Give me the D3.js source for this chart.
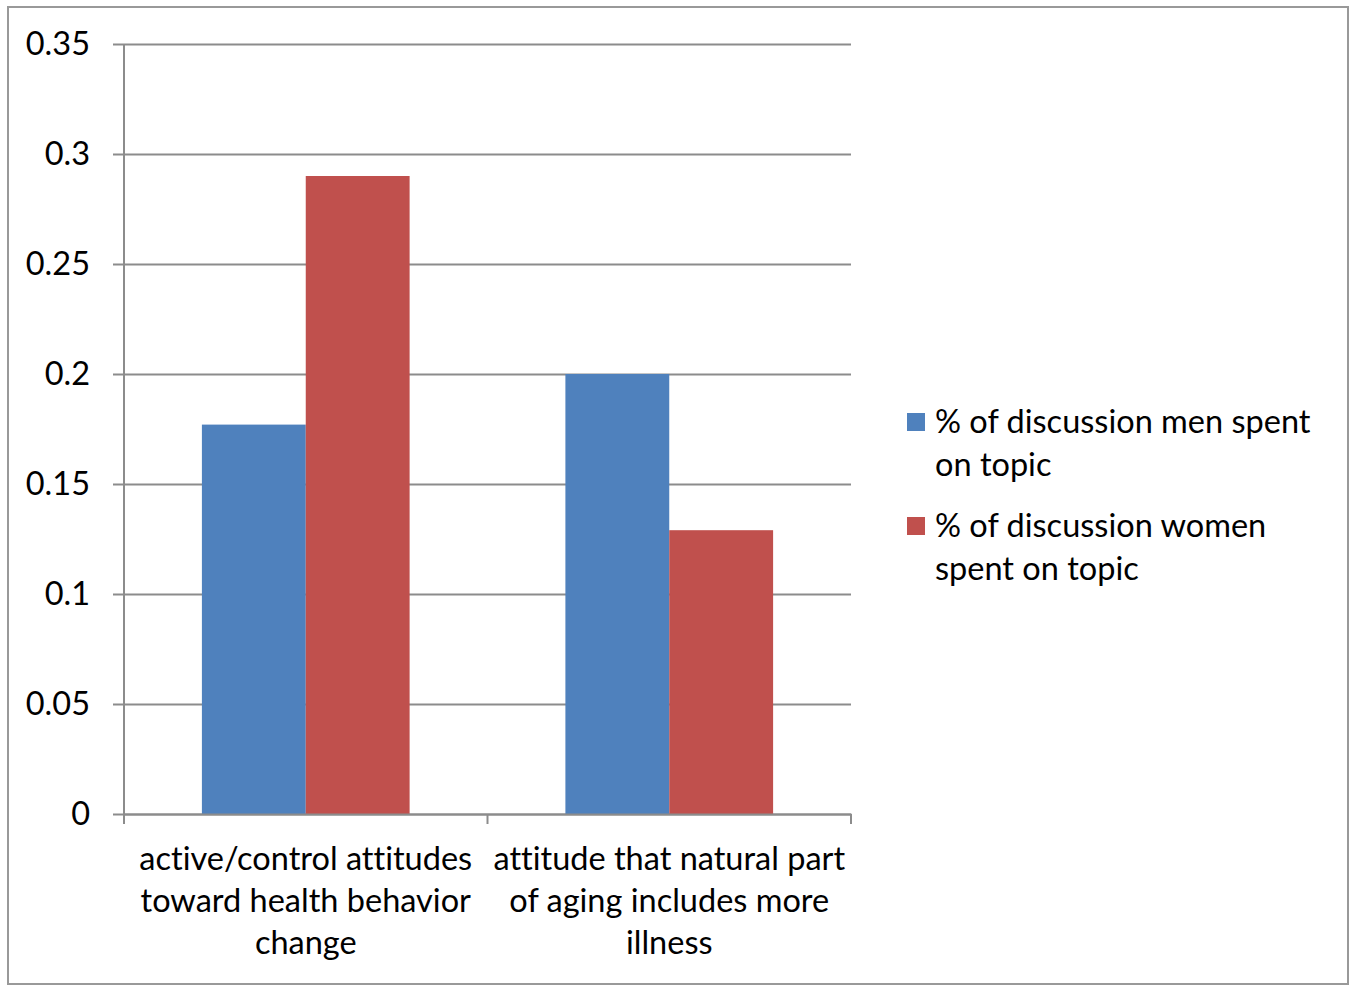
<!DOCTYPE html>
<html>
<head>
<meta charset="utf-8">
<script src="https://cdn.jsdelivr.net/npm/d3@7"></script>
<style>
  html, body { margin: 0; padding: 0; background: #fff; }
  svg { display: block; }
  text { font-family: Lato, "Open Sans", sans-serif; fill: #000; font-variant-ligatures: none; }
</style>
</head>
<body>
<svg id="chart" width="1357" height="986"></svg>
<script>
// Topics discussed and the share of discussion time each group spent on them
const categories = [
  ["active/control attitudes", "toward health behavior", "change"],
  ["attitude that natural part", "of aging includes more", "illness"]
];
const seriesNames = [
  ["% of discussion men spent", "on topic"],
  ["% of discussion women", "spent on topic"]
];
const menValues = [0.177, 0.2];
const womenValues = [0.29, 0.129];
const yTicks = [0, 0.05, 0.1, 0.15, 0.2, 0.25, 0.3, 0.35];
const yTickLabels = ["0", "0.05", "0.1", "0.15", "0.2", "0.25", "0.3", "0.35"];
const colors = ["#4f81bd", "#c0504d"];

const FS = 32.5;
const svg = d3.select("#chart");

// outer chart frame
svg.append("rect")
  .attr("x", 8).attr("y", 7).attr("width", 1340).attr("height", 977)
  .attr("fill", "#fff").attr("stroke", "#999").attr("stroke-width", 2);

const plot = { left: 124, right: 851, top: 44, bottom: 814 };

const y = d3.scaleLinear().domain([0, 0.35]).range([plot.bottom, plot.top]);
const x0 = d3.scaleBand().domain(d3.range(categories.length))
  .range([plot.left, plot.right]).padding(0);
// gap width of 150% between groups
const barW = x0.bandwidth() / 3.5;
const x1 = d3.scaleBand().domain([0, 1])
  .range([barW * 0.75, barW * 2.75]).padding(0);

// horizontal gridlines
const yAxis = d3.axisLeft(y).tickValues(yTicks)
  .tickSize(-(plot.right - plot.left)).tickFormat("");
const gGrid = svg.append("g").attr("transform", `translate(${plot.left},0)`).call(yAxis);
gGrid.select(".domain").remove();
gGrid.selectAll(".tick line").attr("stroke", "#8c8c8c").attr("stroke-width", 2)
  .attr("x1", -11);

// bars
const seriesValues = [menValues, womenValues];
const groups = svg.append("g").selectAll("g")
  .data(categories.map((c, i) => i))
  .join("g")
  .attr("transform", i => `translate(${x0(i)},0)`);
groups.selectAll("rect")
  .data(i => seriesValues.map((vals, s) => ({ s, v: vals[i] })))
  .join("rect")
  .attr("x", d => x1(d.s))
  .attr("width", x1.bandwidth())
  .attr("y", d => y(d.v))
  .attr("height", d => y(0) - y(d.v))
  .attr("fill", d => colors[d.s]);

// y axis line and tick labels
svg.append("line")
  .attr("x1", plot.left).attr("x2", plot.left)
  .attr("y1", plot.top).attr("y2", plot.bottom)
  .attr("stroke", "#8c8c8c").attr("stroke-width", 2);
svg.append("g").selectAll("text")
  .data(yTicks)
  .join("text")
  .attr("x", 90)
  .attr("y", d => y(d))
  .attr("dy", "0.35em")
  .attr("text-anchor", "end")
  .attr("font-size", FS)
  .text((d, i) => yTickLabels[i]);

// x axis line with category boundary ticks
const xAxis = d3.axisBottom(x0).tickSize(0).tickFormat("");
const gx = svg.append("g").attr("transform", `translate(0,${plot.bottom})`).call(xAxis);
gx.select(".domain").attr("stroke", "#8c8c8c").attr("stroke-width", 2);
gx.selectAll(".tick").remove();
const boundaries = [plot.left].concat(d3.range(categories.length).map(i => x0(i) + x0.bandwidth()));
gx.selectAll("line.bound")
  .data(boundaries)
  .join("line")
  .attr("class", "bound")
  .attr("x1", d => d).attr("x2", d => d)
  .attr("y1", 0).attr("y2", 10)
  .attr("stroke", "#8c8c8c").attr("stroke-width", 2);

// category labels
svg.append("g").selectAll("text")
  .data(categories)
  .join("text")
  .attr("text-anchor", "middle")
  .attr("font-size", FS)
  .each(function (lines, i) {
    const t = d3.select(this);
    lines.forEach((ln, j) => {
      t.append("tspan")
        .attr("x", x0(i) + x0.bandwidth() / 2)
        .attr("y", 870 + j * 42)
        .text(ln);
    });
  });

// legend
const legend = svg.append("g");
const legendRows = [413, 517];
seriesNames.forEach((lines, s) => {
  legend.append("rect")
    .attr("x", 907).attr("y", legendRows[s])
    .attr("width", 18).attr("height", 18)
    .attr("fill", colors[s]);
  const t = legend.append("text").attr("font-size", FS);
  lines.forEach((ln, j) => {
    t.append("tspan").attr("x", 935).attr("y", legendRows[s] + 20 + j * 43).text(ln);
  });
});
</script>
</body>
</html>
